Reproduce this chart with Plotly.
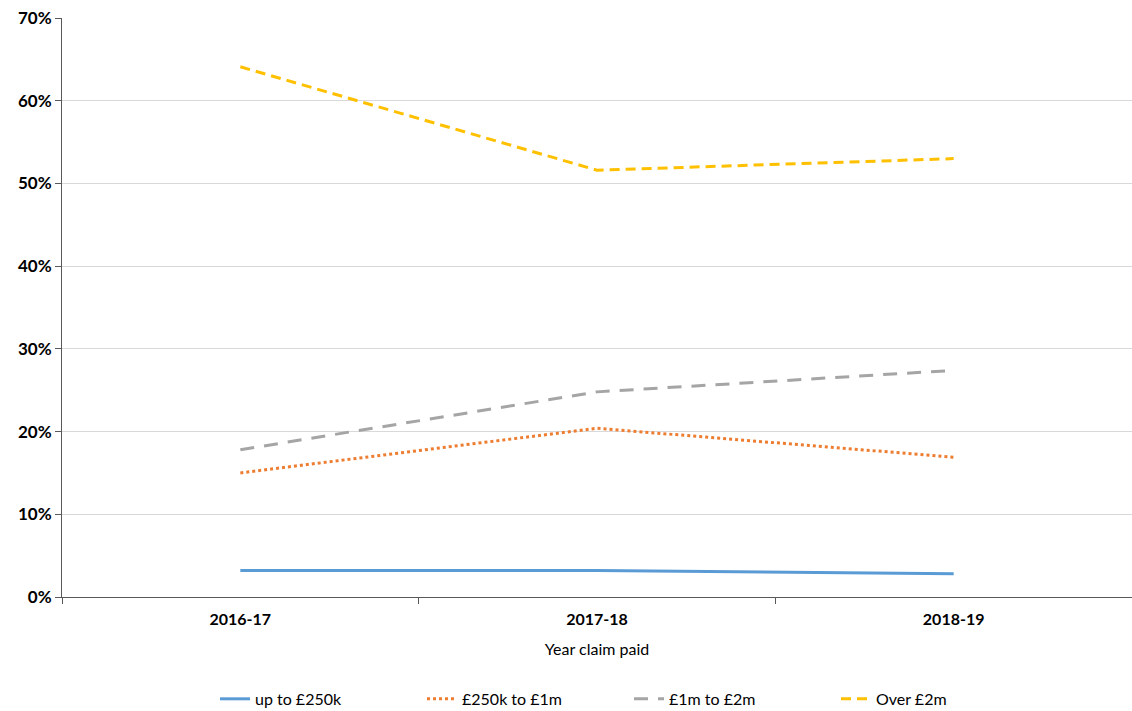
import plotly.graph_objects as go

years = ["2016-17", "2017-18", "2018-19"]

up_to_250k = [3.2, 3.2, 2.8]
from_250k_to_1m = [15.0, 20.4, 16.9]
from_1m_to_2m = [17.8, 24.8, 27.4]
over_2m = [64.1, 51.6, 53.0]

series = [
    ("up to £250k", up_to_250k, "#5b9bd5", "solid"),
    ("£250k to £1m", from_250k_to_1m, "#ed7d31", "3px,3px"),
    ("£1m to £2m", from_1m_to_2m, "#a5a5a5", "14px,10px"),
    ("Over £2m", over_2m, "#ffc000", "10px,6px"),
]

font_family = "Lato, 'Open Sans', sans-serif"

fig = go.Figure()
for name, vals, color, dash in series:
    fig.add_trace(go.Scatter(
        x=years, y=[v / 100 for v in vals], name=name, mode="lines",
        line=dict(color=color, width=3, dash=dash),
    ))

fig.update_layout(
    width=1132, height=711,
    margin=dict(l=62, r=0, t=18, b=114),
    paper_bgcolor="white", plot_bgcolor="white",
    font=dict(family=font_family, color="#000000", size=15),
    showlegend=True,
    legend=dict(orientation="h", x=0.143, xanchor="left",
                yref="container", y=0.017, yanchor="middle",
                entrywidth=162, font=dict(size=16)),
    xaxis=dict(
        type="category", range=[-0.5, 2.5], automargin=False,
        tickson="boundaries", ticks="outside", ticklen=6, tickcolor="#595959",
        showline=True, linecolor="#595959", linewidth=1,
        showgrid=False, zeroline=False, ticklabelstandoff=8,
        tickfont=dict(size=16, family=font_family, weight="bold"),
        title=dict(text="Year claim paid", font=dict(size=16), standoff=16),
    ),
    yaxis=dict(
        range=[0, 0.7], dtick=0.1, tickformat=".0%", automargin=False,
        ticks="outside", ticklen=6, tickcolor="#595959",
        showline=True, linecolor="#595959", linewidth=1,
        showgrid=True, gridcolor="#d9d9d9", gridwidth=1, zeroline=False,
        tickfont=dict(size=17, family=font_family, weight="bold"),
    ),
)

fig.write_html("out.html")
